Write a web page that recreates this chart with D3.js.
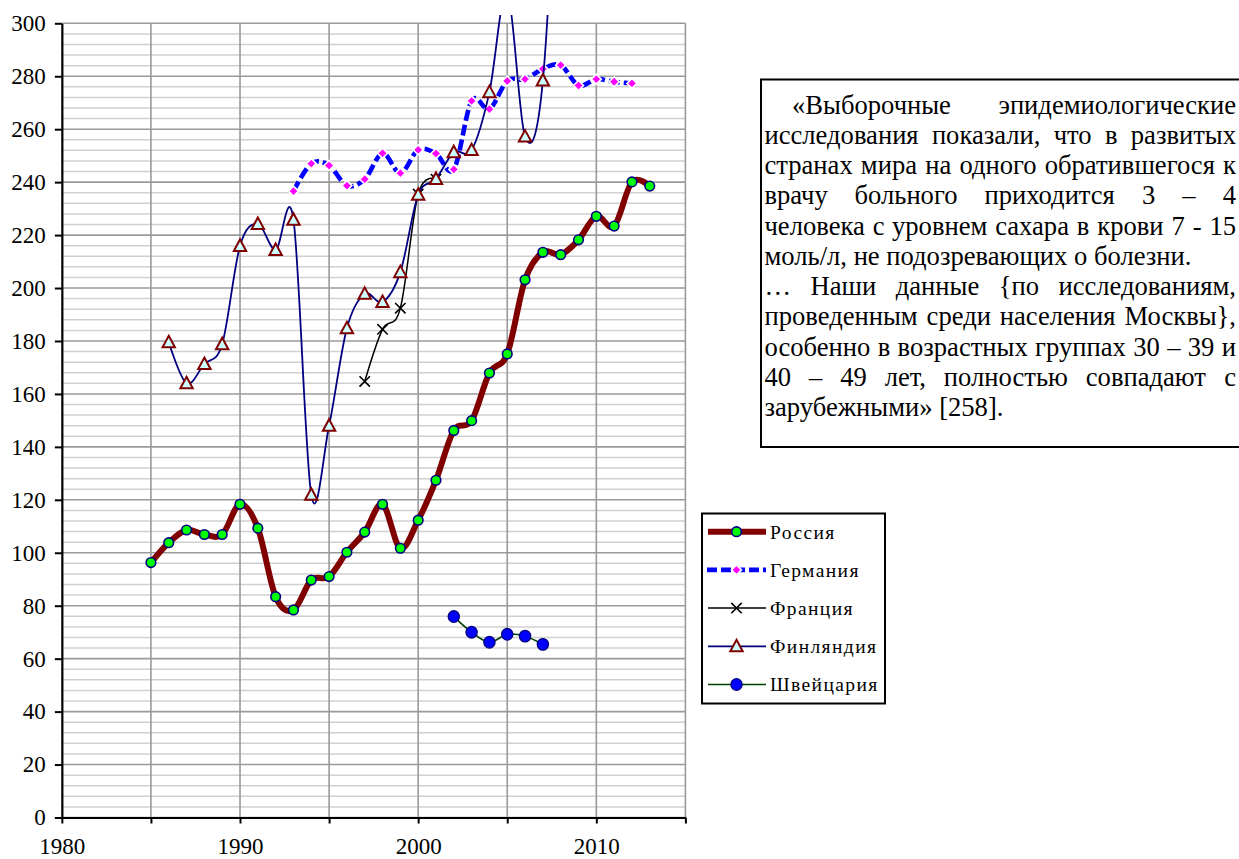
<!DOCTYPE html>
<html>
<head>
<meta charset="utf-8">
<script src="https://cdn.jsdelivr.net/npm/d3@7"></script>
<style>
  html, body { margin: 0; padding: 0; background: #ffffff; }
  svg { display: block; }
</style>
</head>
<body>
<svg id="chart" width="1239" height="859"></svg>
<script>
// ---- data -------------------------------------------------------------
const russiaYears = [1985,1986,1987,1988,1989,1990,1991,1992,1993,1994,1995,1996,1997,1998,1999,
                     2000,2001,2002,2003,2004,2005,2006,2007,2008,2009,2010,2011,2012,2013];
const russia = [96.3,103.8,108.6,106.9,106.9,118.3,109.3,83.4,78.4,89.7,91.0,100.2,107.8,118.3,101.7,
                112.3,127.4,146.2,149.9,167.9,175.1,203.1,213.5,212.6,218.2,227.1,223.4,240.1,238.5];

const germanyYears = [1993,1994,1995,1996,1997,1998,1999,2000,2001,2002,
                      2003,2004,2005,2006,2007,2008,2009,2010,2011,2012];
const germany = [236.6,247.0,246.3,238.7,241.1,250.9,243.4,252.2,250.8,244.8,
                 270.7,267.6,278.2,278.9,282.8,284.2,276.5,278.9,277.9,277.3];

const franceYears = [1997,1998,1999,2000,2001];
const france = [164.7,184.4,192.4,235.5,241.1];

const finlandYears = [1986,1987,1988,1989,1990,1991,1992,1993,1994,1995,1996,1997,
                      1998,1999,2000,2001,2002,2003,2004,2005,2006,2007,2008];
const finland = [179.5,164.0,171.3,178.8,215.9,224.2,214.4,225.8,121.9,148.0,184.8,197.8,
                 194.7,206.0,235.2,241.2,251.3,252.1,274.0,312.0,257.2,278.4,400.0];

const switzerlandYears = [2002,2003,2004,2005,2006,2007];
const switzerland = [75.9,70.0,66.2,69.2,68.5,65.4];

const seriesNames = ["Россия","Германия","Франция","Финляндия","Швейцария"];

const yTickValues = d3.range(0, 301, 20);
const yMinorValues = d3.range(0, 301, 4).filter(v => v % 20 !== 0);
const xTickValues = [1980,1985,1990,1995,2000,2005,2010,2015];
const xLabelValues = [1980,1990,2000,2010];

const noteLines = [
  "«Выборочные эпидемиологические",
  "исследования показали, что в развитых",
  "странах мира на одного обратившегося к",
  "врачу больного приходится 3 – 4",
  "человека с уровнем сахара в крови 7 - 15",
  "моль/л, не подозревающих о болезни.",
  "… Наши данные {по исследованиям,",
  "проведенным среди населения Москвы},",
  "особенно в возрастных группах 30 – 39 и",
  "40 – 49 лет, полностью совпадают с",
  "зарубежными» [258]."
];
const paragraphEnds = [5, 10];
const paragraphStarts = [0];

// ---- font: first installed serif face from a list of candidates ---------
function firstInstalled(candidates) {
  const ctx = document.createElement("canvas").getContext("2d");
  const sample = "Выборочные исследования 0123456789 mwil";
  const fallbacks = ["monospace", "sans-serif"];
  const base = fallbacks.map(b => { ctx.font = `40px ${b}`; return ctx.measureText(sample).width; });
  for (const f of candidates) {
    const differs = fallbacks.some((b, i) => {
      ctx.font = `40px "${f}", ${b}`;
      return Math.abs(ctx.measureText(sample).width - base[i]) > 0.01;
    });
    if (differs) return `"${f}", serif`;
  }
  return "serif";
}
const serif = firstInstalled(["Liberation Serif", "Times New Roman", "Tinos", "DejaVu Serif",
                              "Noto Serif", "FreeSerif", "Nimbus Roman", "Times"]);

// ---- layout -----------------------------------------------------------
const svg = d3.select("#chart");
const plot = { left: 61.85, right: 685.4, top: 23.3, bottom: 817.5 };

const x = d3.scaleLinear().domain([1980, 2015]).range([plot.left, plot.right]);
const y = d3.scaleLinear().domain([0, 300]).range([plot.bottom, plot.top]);

// clip for the series (lines leaving the top are cut a little above the frame)
svg.append("defs").append("clipPath").attr("id", "plotClip")
  .append("rect").attr("x", plot.left - 12).attr("y", 15)
  .attr("width", plot.right - plot.left + 24).attr("height", plot.bottom - 15 + 12);

// ---- grid -------------------------------------------------------------
const grid = svg.append("g");
grid.selectAll("line.minor").data(yMinorValues).join("line")
  .attr("x1", plot.left).attr("x2", plot.right)
  .attr("y1", d => y(d)).attr("y2", d => y(d))
  .attr("stroke", "#d0d0d0").attr("stroke-width", 1.5);
grid.selectAll("line.majorH").data(yTickValues).join("line")
  .attr("x1", plot.left).attr("x2", plot.right)
  .attr("y1", d => y(d)).attr("y2", d => y(d))
  .attr("stroke", "#9a9a9a").attr("stroke-width", 1.6);
grid.selectAll("line.majorV").data(xTickValues.slice(1)).join("line")
  .attr("x1", d => x(d)).attr("x2", d => x(d))
  .attr("y1", plot.top).attr("y2", plot.bottom)
  .attr("stroke", "#9a9a9a").attr("stroke-width", 1.6);

// ---- axes -------------------------------------------------------------
const yAxis = svg.append("g").attr("transform", `translate(${plot.left},0)`)
  .call(d3.axisLeft(y).tickValues(yTickValues).tickSize(7).tickSizeOuter(0).tickPadding(9)
    .tickFormat(d3.format("d")));
const xAxis = svg.append("g").attr("transform", `translate(0,${plot.bottom})`)
  .call(d3.axisBottom(x).tickValues(xTickValues).tickSize(6).tickSizeOuter(0).tickPadding(14)
    .tickFormat(d => xLabelValues.includes(d) ? d3.format("d")(d) : ""));
[yAxis, xAxis].forEach(a => {
  a.attr("font-family", serif).attr("font-size", 23);
  a.select(".domain").attr("stroke", "#000").attr("stroke-width", 2.2);
  a.selectAll(".tick line").attr("stroke", "#000").attr("stroke-width", 2);
  a.selectAll(".tick text").attr("fill", "#000");
});

// ---- markers ----------------------------------------------------------
function marker(g, type, cx, cy) {
  if (type === "russia") {
    g.append("circle").attr("cx", cx).attr("cy", cy).attr("r", 4.8)
      .attr("fill", "#00ff00").attr("stroke", "#000080").attr("stroke-width", 1.6);
  } else if (type === "germany") {
    const s = 5;
    g.append("path").attr("d", `M${cx},${cy - s}L${cx + s},${cy}L${cx},${cy + s}L${cx - s},${cy}Z`)
      .attr("fill", "#ff00ff").attr("stroke", "#ffffff").attr("stroke-width", 1.6);
  } else if (type === "france") {
    const s = 5.2;
    g.append("path").attr("d", `M${cx - s},${cy - s}L${cx + s},${cy + s}M${cx - s},${cy + s}L${cx + s},${cy - s}`)
      .attr("stroke", "#000").attr("stroke-width", 1.6).attr("fill", "none");
  } else if (type === "finland") {
    g.append("path").attr("d", `M${cx},${cy - 6.5}L${cx + 6.2},${cy + 5}L${cx - 6.2},${cy + 5}Z`)
      .attr("fill", "#ccffff").attr("stroke", "#800000").attr("stroke-width", 2);
  } else if (type === "switzerland") {
    g.append("ellipse").attr("cx", cx).attr("cy", cy).attr("rx", 5.6).attr("ry", 5.8)
      .attr("fill", "#0000ff").attr("stroke", "#000080").attr("stroke-width", 1.3);
  }
}

const series = [
  { type: "russia", years: russiaYears, values: russia, color: "#800000", width: 6, dash: null },
  { type: "germany", years: germanyYears, values: germany, color: "#0000ff", width: 4.6, dash: "11,4" },
  { type: "france", years: franceYears, values: france, color: "#000000", width: 1.5, dash: null },
  { type: "finland", years: finlandYears, values: finland, color: "#000080", width: 1.8, dash: null },
  { type: "switzerland", years: switzerlandYears, values: switzerland, color: "#004000", width: 1.6, dash: null }
];

const line = d3.line().x(d => x(d[0])).y(d => y(d[1])).curve(d3.curveCardinal.tension(0));
const dataG = svg.append("g").attr("clip-path", "url(#plotClip)");
series.forEach(s => {
  const pts = s.years.map((yr, i) => [yr, s.values[i]]);
  const p = dataG.append("path").datum(pts).attr("d", line)
    .attr("fill", "none").attr("stroke", s.color).attr("stroke-width", s.width)
    .attr("stroke-linejoin", "round").attr("stroke-linecap", s.dash ? "butt" : "round");
  if (s.dash) p.attr("stroke-dasharray", s.dash);
  const mg = dataG.append("g");
  pts.forEach(d => marker(mg, s.type, x(d[0]), y(d[1])));
});

// ---- legend -----------------------------------------------------------
const legend = svg.append("g").attr("font-family", serif);
legend.append("rect").attr("x", 702).attr("y", 513.5).attr("width", 183).attr("height", 190)
  .attr("fill", "#fff").attr("stroke", "#000").attr("stroke-width", 2);
series.forEach((s, i) => {
  const cy = 531.7 + i * 38.2;
  const l = legend.append("line").attr("x1", 708).attr("x2", 766).attr("y1", cy).attr("y2", cy)
    .attr("stroke", s.color).attr("stroke-width", s.width).attr("stroke-linecap", "butt");
  if (s.dash) l.attr("stroke-dasharray", "10,4").attr("x1", 707);
  marker(legend, s.type, 736.5, cy);
  legend.append("text").attr("x", 770).attr("y", cy + 6.8)
    .attr("font-size", 19.5).attr("letter-spacing", 1.4).attr("fill", "#000")
    .text(seriesNames[i]);
});

// ---- quotation box ----------------------------------------------------
const box = svg.append("g").attr("font-family", serif).attr("font-size", 26.6);
box.append("rect").attr("x", 761).attr("y", 79.5).attr("width", 500).attr("height", 367.5)
  .attr("fill", "#fff").attr("stroke", "#000").attr("stroke-width", 2);
const textLeft = 764.5, textRight = 1236, indent = 27.5;
const baseline0 = 113.5, lineStep = 30.25;
noteLines.forEach((ln, i) => {
  const x0 = paragraphStarts.includes(i) ? textLeft + indent : textLeft;
  const t = box.append("text").attr("y", baseline0 + i * lineStep).attr("fill", "#000");
  if (paragraphEnds.includes(i)) {
    t.attr("x", x0).text(ln);
    return;
  }
  const words = ln.split(" ");
  const spans = words.map(w => t.append("tspan").text(w));
  const widths = spans.map(sp => sp.node().getComputedTextLength());
  const gap = (textRight - x0 - d3.sum(widths)) / (words.length - 1);
  let cx = x0;
  spans.forEach((sp, k) => { sp.attr("x", cx); cx += widths[k] + gap; });
});
</script>
</body>
</html>
